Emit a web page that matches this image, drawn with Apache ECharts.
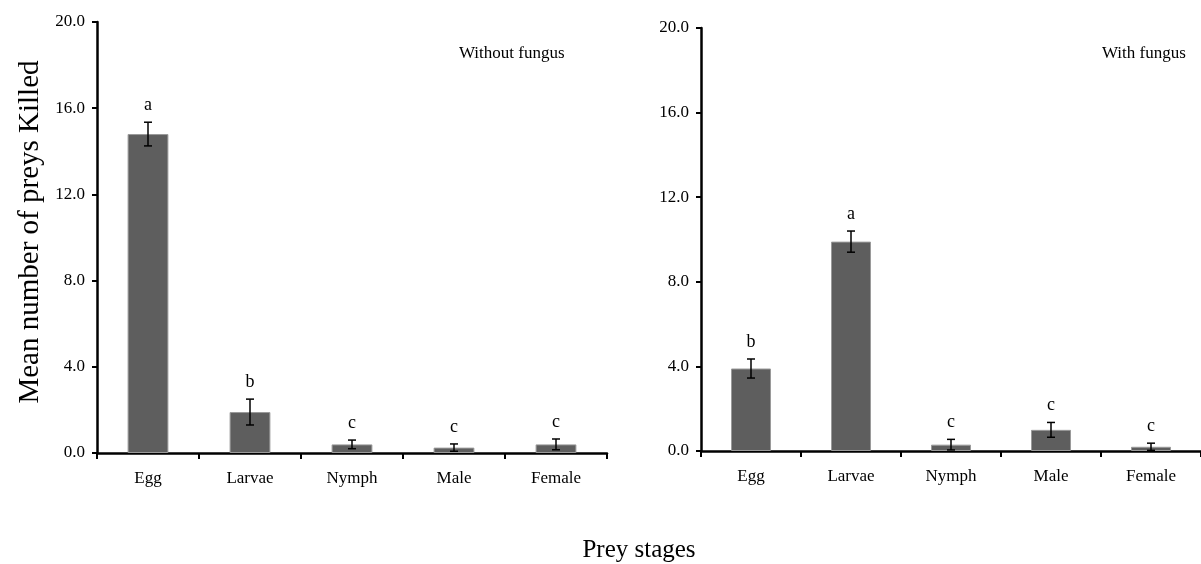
<!DOCTYPE html>
<html>
<head>
<meta charset="utf-8">
<script src="https://cdn.jsdelivr.net/npm/echarts@6/dist/echarts.min.js"></script>
<style>
html, body { margin: 0; padding: 0; background: #fff; }
#chart { width: 1201px; height: 564px; }
</style>
</head>
<body>
<div id="chart"></div>
<script>
// Data
let stages = ['Egg', 'Larvae', 'Nymph', 'Male', 'Female'];
let without_mean = [14.8, 1.9, 0.4, 0.25, 0.4];
let without_err = [0.55, 0.6, 0.2, 0.17, 0.25];
let without_letters = ['a', 'b', 'c', 'c', 'c'];
let with_mean = [3.9, 9.9, 0.3, 1.0, 0.2];
let with_err = [0.45, 0.5, 0.25, 0.35, 0.17];
let with_letters = ['b', 'a', 'c', 'c', 'c'];
let y_ticks = [0, 4, 8, 12, 16, 20];

let font_family = '"Liberation Serif", "DejaVu Serif", serif';
let bar_color = '#5e5e5e';

let chart_dom = document.getElementById('chart');
let chart = echarts.init(chart_dom);

function errorData(mean, err, letters) {
    return mean.map(function (m, i) {
        return [i, m - err[i], m + err[i], letters[i]];
    });
}

function renderError(params, api) {
    let x = api.value(0);
    let low = api.coord([x, api.value(1)]);
    let high = api.coord([x, api.value(2)]);
    let cap = 4;
    let style = { stroke: '#000', lineWidth: 1.5 };
    return {
        type: 'group',
        children: [
            { type: 'line', shape: { x1: low[0], y1: low[1], x2: high[0], y2: high[1] }, style: style },
            { type: 'line', shape: { x1: low[0] - cap, y1: low[1], x2: low[0] + cap, y2: low[1] }, style: style },
            { type: 'line', shape: { x1: high[0] - cap, y1: high[1], x2: high[0] + cap, y2: high[1] }, style: style },
            {
                type: 'text',
                style: {
                    text: api.value(3),
                    x: high[0],
                    y: high[1] - 8,
                    align: 'center',
                    verticalAlign: 'bottom',
                    font: '18px ' + font_family,
                    fill: '#000'
                }
            }
        ]
    };
}

function xAxis(idx) {
    return {
        type: 'category',
        gridIndex: idx,
        data: stages,
        axisLine: { lineStyle: { color: '#000', width: 2.5 } },
        axisTick: { show: true, length: 6, lineStyle: { color: '#000', width: 2 } },
        axisLabel: { color: '#000', fontSize: 17, fontFamily: font_family, margin: 17 }
    };
}

function yAxis(idx) {
    return {
        type: 'value',
        gridIndex: idx,
        min: y_ticks[0],
        max: y_ticks[y_ticks.length - 1],
        interval: 4,
        splitLine: { show: false },
        axisLine: { show: true, lineStyle: { color: '#000', width: 2.5 } },
        axisTick: { show: true, length: 5, lineStyle: { color: '#000', width: 2 } },
        axisLabel: {
            color: '#000', fontSize: 17, fontFamily: font_family, margin: 12,
            formatter: function (v) { return v.toFixed(1); }
        }
    };
}

let option = {
    backgroundColor: '#fff',
    animation: false,
    grid: [
        { left: 97, top: 22, width: 510, height: 431 },
        { left: 701, top: 28, width: 510, height: 423 }
    ],
    xAxis: [xAxis(0), xAxis(1)],
    yAxis: [yAxis(0), yAxis(1)],
    title: [
        { text: 'Without fungus', left: 454, top: 40, textStyle: { fontSize: 17, fontWeight: 'normal', color: '#000', fontFamily: font_family } },
        { text: 'With fungus', left: 1097, top: 40, textStyle: { fontSize: 17, fontWeight: 'normal', color: '#000', fontFamily: font_family } }
    ],
    graphic: [
        {
            type: 'text', x: 30, y: 232, rotation: Math.PI / 2,
            style: { text: 'Mean number of preys Killed', align: 'center', verticalAlign: 'middle', font: '29px ' + font_family, fill: '#000' }
        },
        {
            type: 'text', x: 639, y: 550,
            style: { text: 'Prey stages', align: 'center', verticalAlign: 'middle', font: '25px ' + font_family, fill: '#000' }
        }
    ],
    series: [
        {
            type: 'bar', xAxisIndex: 0, yAxisIndex: 0, data: without_mean, barWidth: '40%',
            itemStyle: { color: bar_color, borderColor: '#9a9a9a', borderWidth: 1 }
        },
        {
            type: 'custom', xAxisIndex: 0, yAxisIndex: 0, renderItem: renderError,
            data: errorData(without_mean, without_err, without_letters), z: 5
        },
        {
            type: 'bar', xAxisIndex: 1, yAxisIndex: 1, data: with_mean, barWidth: '40%',
            itemStyle: { color: bar_color, borderColor: '#9a9a9a', borderWidth: 1 }
        },
        {
            type: 'custom', xAxisIndex: 1, yAxisIndex: 1, renderItem: renderError,
            data: errorData(with_mean, with_err, with_letters), z: 5
        }
    ]
};

chart.setOption(option, true);
</script>
</body>
</html>
